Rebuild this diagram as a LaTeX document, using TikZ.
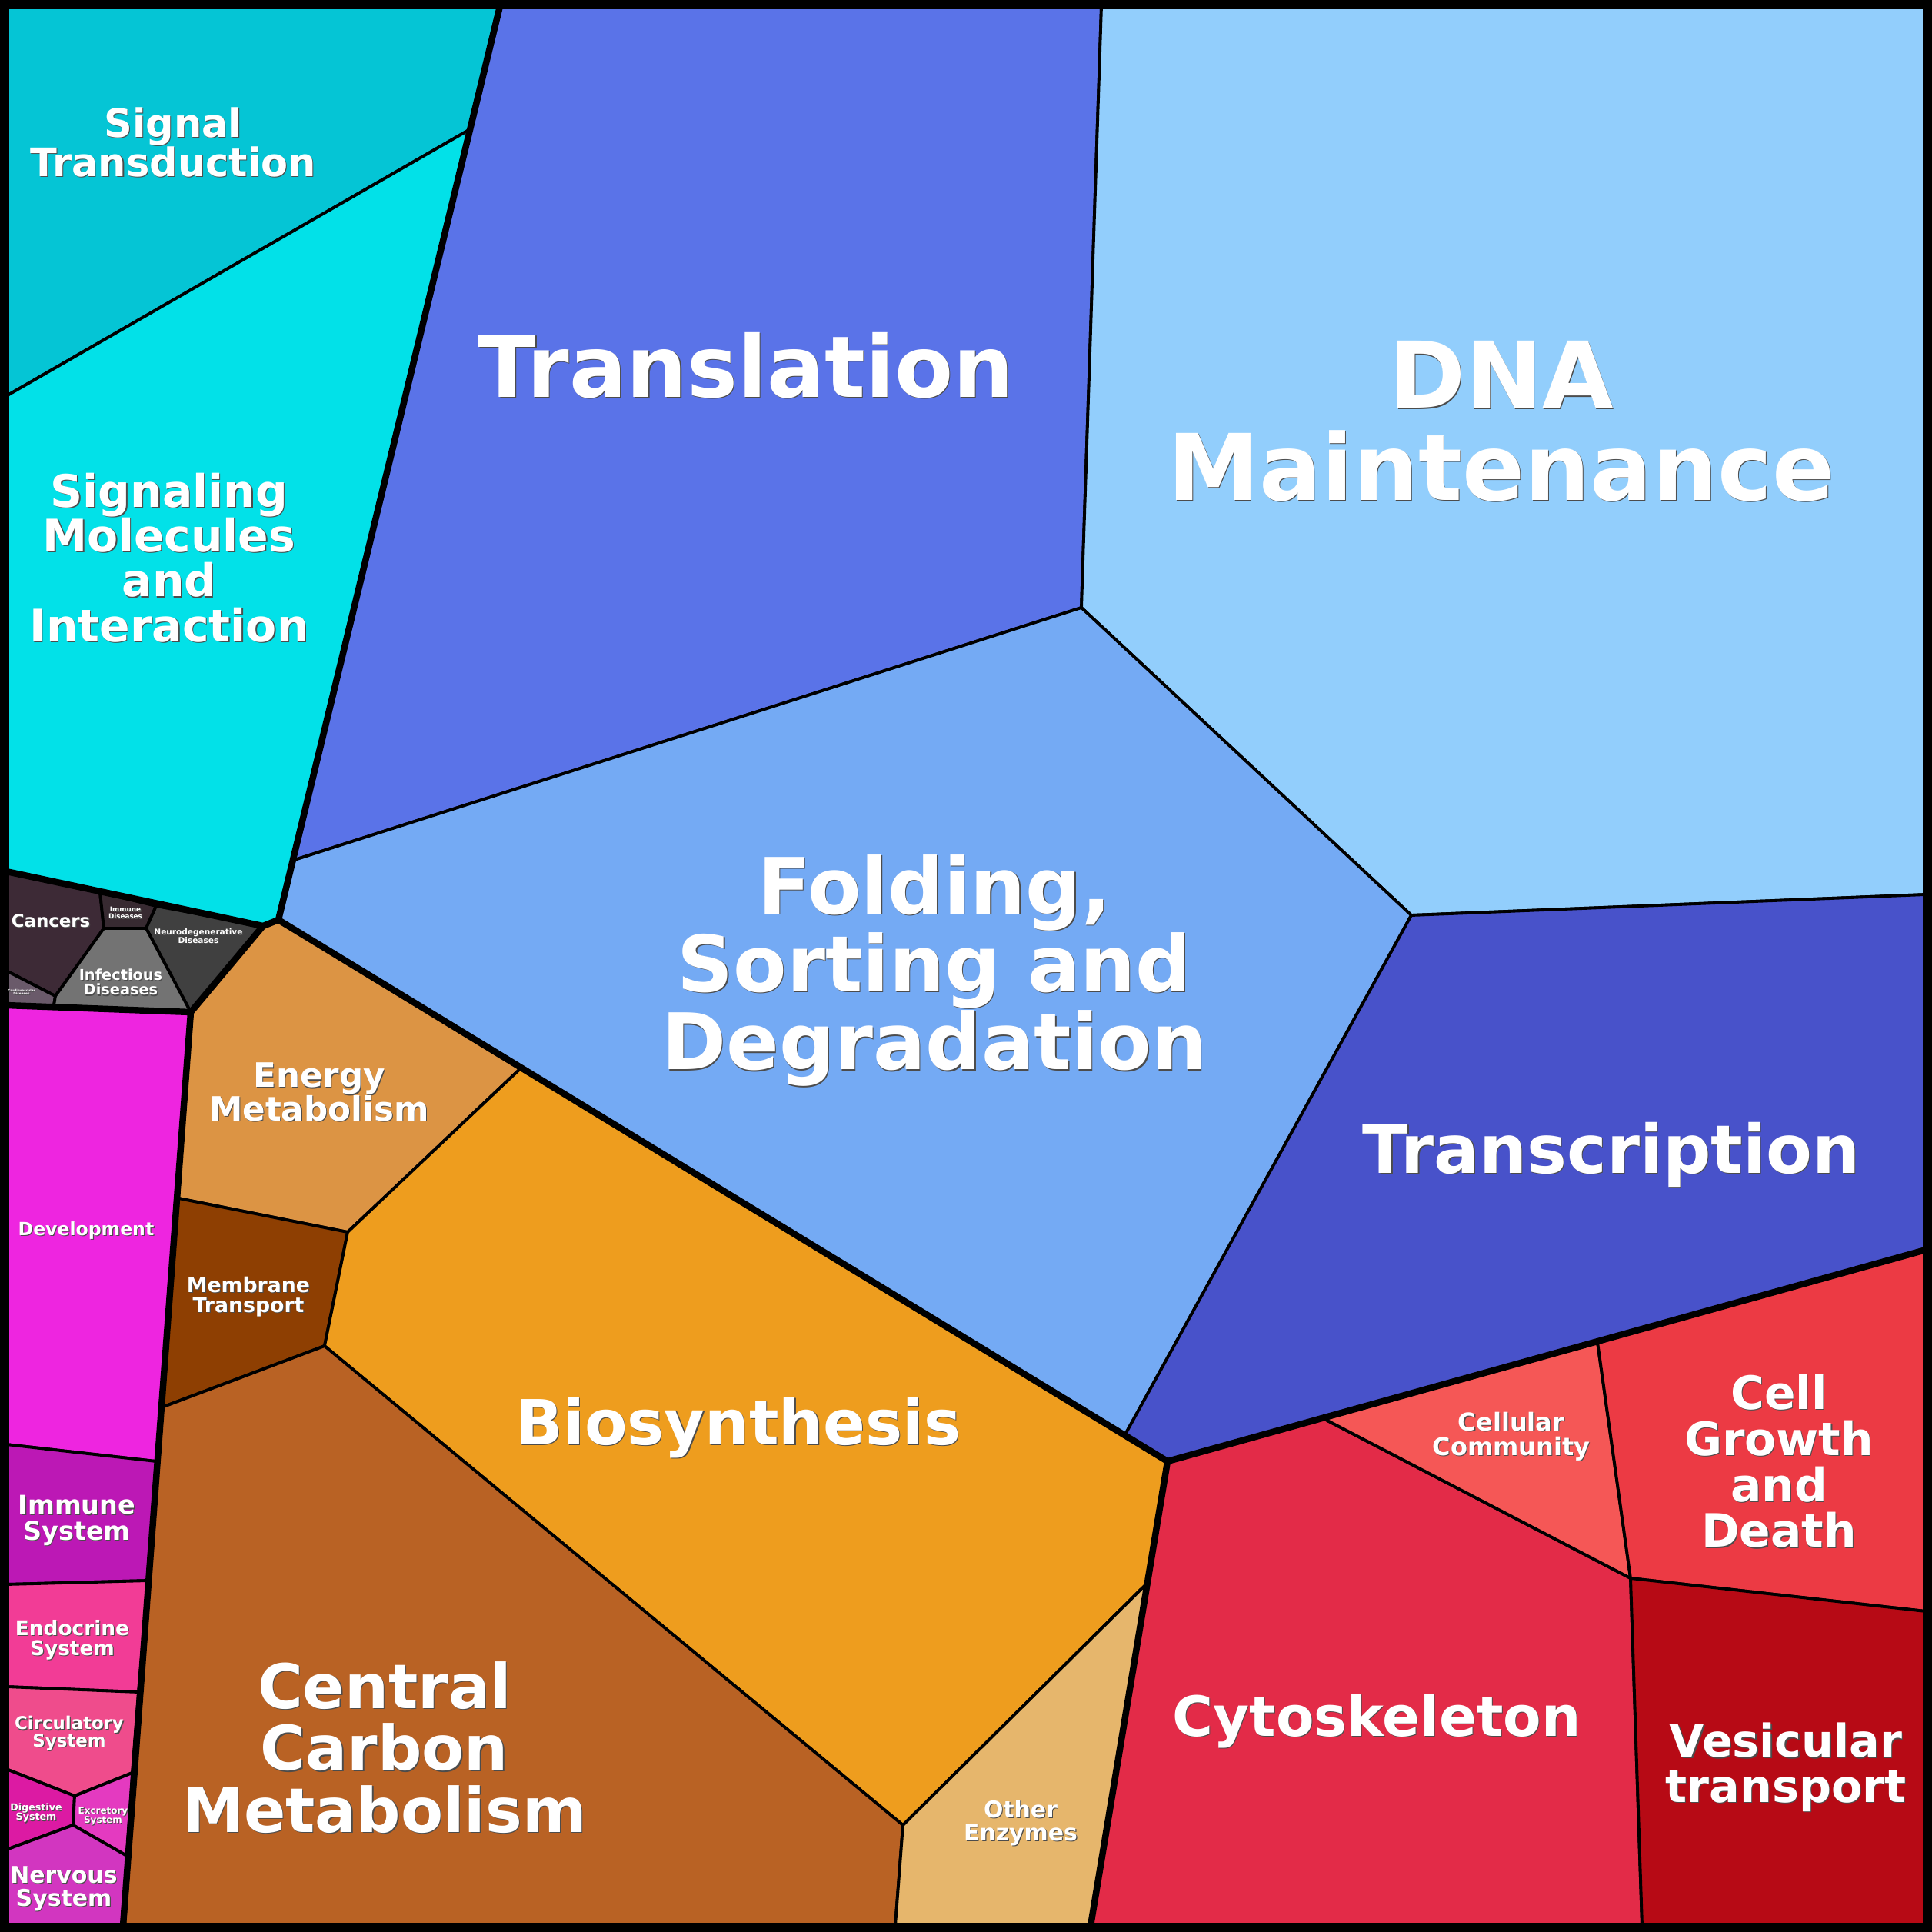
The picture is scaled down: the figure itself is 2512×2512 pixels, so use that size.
\documentclass[tikz,border=0pt]{standalone}
\usepackage{fontspec}
\setmainfont{DejaVu Sans}
\begin{document}
\begin{tikzpicture}[x=0.01cm,y=-0.01cm]

% definitions
\tikzset{cell/.style={draw=black, line width=1.1pt, line join=round},
  group/.style={draw=black, line width=2.4pt, line cap=round, line join=round},
  lbl/.style={text=white, align=center, inner sep=0pt},
  shade/.style={lbl, text=black!70, xshift=0.35pt, yshift=-0.35pt}}
\newcommand{\lbl}[4]{%
  \edef\lblskip{\fpeval{1.0*#3}}%
  \node[shade, font=\bfseries\fontsize{#3}{\lblskip}\selectfont] at (#2) {#4};
  \node[lbl, font=\bfseries\fontsize{#3}{\lblskip}\selectfont] (#1) at (#2) {#4};}

\useasboundingbox (0,0) rectangle (2512,2512);
\fill[black] (0,0) rectangle (2512,2512);

% the cells
\filldraw[cell, fill={rgb,255:red,5;green,197;blue,213}] (8,8) -- (650,8) -- (613,167) -- (8,515) -- cycle;
\filldraw[cell, fill={rgb,255:red,2;green,225;blue,232}] (8,515) -- (613,167) -- (362,1196) -- (342,1204) -- (8,1133) -- cycle;
\filldraw[cell, fill={rgb,255:red,90;green,115;blue,232}] (650,8) -- (1432,8) -- (1406,790) -- (383,1118) -- (362,1196) -- cycle;
\filldraw[cell, fill={rgb,255:red,146;green,206;blue,252}] (1432,8) -- (2504,8) -- (2504,1163) -- (1835,1190) -- (1406,790) -- cycle;
\filldraw[cell, fill={rgb,255:red,116;green,170;blue,244}] (362,1196) -- (383,1118) -- (1406,790) -- (1835,1190) -- (1463,1865) -- cycle;
\filldraw[cell, fill={rgb,255:red,72;green,82;blue,202}] (1835,1190) -- (2504,1163) -- (2504,1625) -- (1518,1900) -- (1463,1865) -- cycle;
\filldraw[cell, fill={rgb,255:red,220;green,148;blue,68}] (362,1196) -- (678,1388) -- (452,1602) -- (232,1558) -- (248,1316) -- (342,1204) -- cycle;
\filldraw[cell, fill={rgb,255:red,142;green,63;blue,2}] (232,1558) -- (452,1602) -- (422,1750) -- (210,1830) -- cycle;
\filldraw[cell, fill={rgb,255:red,238;green,157;blue,30}] (678,1388) -- (1518,1900) -- (1490,2060) -- (1174,2373) -- (422,1750) -- (452,1602) -- cycle;
\filldraw[cell, fill={rgb,255:red,185;green,98;blue,36}] (210,1830) -- (422,1750) -- (1174,2373) -- (1164,2504) -- (162,2504) -- cycle;
\filldraw[cell, fill={rgb,255:red,230;green,182;blue,108}] (1174,2373) -- (1490,2060) -- (1418,2504) -- (1164,2504) -- cycle;
\filldraw[cell, fill={rgb,255:red,227;green,43;blue,72}] (1518,1900) -- (1722,1845) -- (2120,2052) -- (2135,2504) -- (1418,2504) -- (1490,2060) -- cycle;
\filldraw[cell, fill={rgb,255:red,245;green,87;blue,86}] (1722,1845) -- (2077,1745) -- (2120,2052) -- cycle;
\filldraw[cell, fill={rgb,255:red,236;green,58;blue,68}] (2077,1745) -- (2504,1625) -- (2504,2095) -- (2120,2052) -- cycle;
\filldraw[cell, fill={rgb,255:red,183;green,10;blue,21}] (2120,2052) -- (2504,2095) -- (2504,2504) -- (2135,2504) -- cycle;
% organismal systems
\filldraw[cell, fill={rgb,255:red,238;green,37;blue,224}] (8,1307) -- (248,1316) -- (203,1900) -- (8,1878) -- cycle;
\filldraw[cell, fill={rgb,255:red,188;green,24;blue,181}] (8,1878) -- (203,1900) -- (193,2055) -- (8,2060) -- cycle;
\filldraw[cell, fill={rgb,255:red,242;green,60;blue,150}] (8,2060) -- (193,2055) -- (180,2200) -- (8,2193) -- cycle;
\filldraw[cell, fill={rgb,255:red,239;green,76;blue,140}] (8,2193) -- (180,2200) -- (172,2305) -- (97,2335) -- (8,2300) -- cycle;
\filldraw[cell, fill={rgb,255:red,220;green,26;blue,163}] (8,2300) -- (97,2335) -- (95,2373) -- (8,2405) -- cycle;
\filldraw[cell, fill={rgb,255:red,228;green,58;blue,192}] (97,2335) -- (172,2305) -- (165,2413) -- (95,2373) -- cycle;
\filldraw[cell, fill={rgb,255:red,210;green,54;blue,192}] (8,2405) -- (95,2373) -- (165,2413) -- (160,2504) -- (8,2504) -- cycle;
% human diseases
\filldraw[cell, fill={rgb,255:red,61;green,42;blue,54}] (8,1133) -- (130,1160) -- (135,1207) -- (72,1295) -- (8,1262) -- cycle;
\filldraw[cell, fill={rgb,255:red,106;green,90;blue,106}] (8,1262) -- (72,1295) -- (70,1307) -- (8,1307) -- cycle;
\filldraw[cell, fill={rgb,255:red,55;green,42;blue,49}] (130,1160) -- (203,1178) -- (190,1207) -- (135,1207) -- cycle;
\filldraw[cell, fill={rgb,255:red,64;green,64;blue,64}] (203,1178) -- (342,1204) -- (248,1316) -- (190,1207) -- cycle;
\filldraw[cell, fill={rgb,255:red,115;green,115;blue,115}] (135,1207) -- (190,1207) -- (248,1316) -- (70,1307) -- (72,1295) -- cycle;

% group borders
\draw[group] (650,8) -- (362,1196) -- (1518,1900) -- (2504,1625);
\draw[group] (1518,1900) -- (1418,2504);
\draw[group] (8,1133) -- (342,1204) -- (362,1196);
\draw[group] (342,1204) -- (248,1316) -- (160,2504);
\draw[group] (8,1307) -- (248,1316);
\draw[black, line width=3.4pt] (6,6) rectangle (2506,2506);

% the labels
\lbl{st}{225,185}{14.5}{Signal\\Transduction}
\lbl{smi}{220,725}{16.6}{Signaling\\Molecules\\and\\Interaction}
\lbl{tl}{970,475}{31.5}{Translation}
\lbl{dna}{1952,548}{34}{DNA\\Maintenance}
\lbl{fsd}{1215,1262}{28.8}{Folding,\\Sorting and\\Degradation}
\lbl{tc}{2095,1501}{24.8}{Transcription}
\lbl{em}{415,1420}{12.4}{Energy\\Metabolism}
\lbl{mt}{323,1686}{7.6}{Membrane\\Transport}
\lbl{bs}{960,1856}{23}{Biosynthesis}
\lbl{ccm}{500,2272}{22.8}{Central\\Carbon\\Metabolism}
\lbl{oe}{1327,2370}{8.5}{Other\\Enzymes}
\lbl{cs}{1790,2238}{20.5}{Cytoskeleton}
\lbl{cc}{1965,1868}{9.1}{Cellular\\Community}
\lbl{cgd}{2313,1900}{17}{Cell\\Growth\\and\\Death}
\lbl{vt}{2322,2298}{16.7}{Vesicular\\transport}
\lbl{dev}{112,1600}{6.7}{Development}
\lbl{ims}{100,1977}{9.5}{Immune\\System}
\lbl{ens}{94,2132}{7.5}{Endocrine\\System}
\lbl{cis}{90,2254}{6.5}{Circulatory\\System}
\lbl{dgs}{47,2357}{3.6}{Digestive\\System}
\lbl{exs}{134,2361}{3.4}{Excretory\\System}
\lbl{nvs}{83,2456}{8.5}{Nervous\\System}
\lbl{can}{66,1197}{6.5}{Cancers}
\lbl{imd}{163,1187}{2.5}{Immune\\Diseases}
\lbl{ind}{157,1277}{5.5}{Infectious\\Diseases}
\lbl{ndd}{258,1217}{3}{Neurodegenerative\\Diseases}
\lbl{cvd}{28,1290}{1.2}{Cardiovascular\\Diseases}

\end{tikzpicture}
\end{document}
